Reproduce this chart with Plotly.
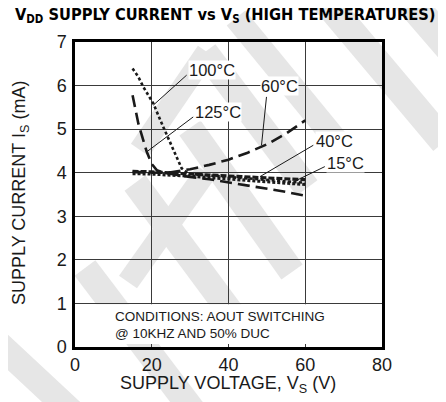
import plotly.graph_objects as go

# ---- data ----
x_125 = [15, 16.5, 18.7, 20, 21.3, 23, 26, 30, 35, 40, 45, 50, 55, 60]
y_125 = [5.78, 5.13, 4.48, 4.2, 4.06, 4.0, 3.96, 3.9, 3.85, 3.78, 3.71, 3.64, 3.56, 3.47]

x_100 = [15, 16.5, 17.8, 20.4, 23, 25.6, 27.8, 29.5, 35, 40, 45, 50, 55, 60]
y_100 = [6.39, 6.2, 5.97, 5.59, 5.05, 4.52, 4.1, 3.98, 3.93, 3.9, 3.87, 3.83, 3.8, 3.77]

x_60 = [15, 20, 25, 30, 35, 40, 45, 50, 55, 60]
y_60 = [4.02, 4.0, 4.01, 4.08, 4.18, 4.3, 4.46, 4.65, 4.9, 5.2]

x_40 = [15, 20, 30, 40, 50, 60]
y_40 = [4.03, 4.02, 3.97, 3.92, 3.88, 3.84]

x_15 = [15, 20, 30, 40, 50, 60]
y_15 = [3.98, 3.97, 3.92, 3.86, 3.8, 3.73]

x_ticks = [0, 20, 40, 60, 80]
y_ticks = [0, 1, 2, 3, 4, 5, 6, 7]

# label text, label position, leader line (from, to)
labels = [
    ("100°C", (35.6, 6.35), (29.1, 6.24), (20.4, 5.55)),
    ("125°C", (37.3, 5.40), (30.8, 5.28), (18.7, 4.48)),
    ("60°C", (53.4, 5.99), (49.9, 5.74), (48.6, 4.63)),
    ("40°C", (67.7, 4.73), (62.1, 4.63), (48.2, 3.91)),
    ("15°C", (70.5, 4.23), (65.1, 4.14), (56.9, 3.79)),
]

FONT = "Liberation Sans, Arial, Helvetica, sans-serif"
INK = "#1a1a1a"

fig = go.Figure()
series = [
    (x_125, y_125, "12px,6px", 2.6),
    (x_60, y_60, "12px,6px", 2.6),
    (x_100, y_100, "3px,2.5px", 2.6),
    (x_40, y_40, "6px,2px", 3.2),
    (x_15, y_15, "3px,2px", 3.2),
]
for xs, ys, dash, w in series:
    fig.add_trace(go.Scatter(x=xs, y=ys, mode="lines",
                             line=dict(color=INK, width=w, dash=dash),
                             showlegend=False, hoverinfo="skip"))

# the page has an 8px body margin: plot area in window pixels is x 75..382, y 42..347
OFF = 8
W, H = 446 - OFF, 402 - OFF
L, R, T, B = 75, 382, 42, 347
def px(xp, yp):
    return (xp - L) / (R - L), (B - yp) / (B - T)

shapes = []
# decorative light-gray watermark stripes (window pixel coords)
stripes = [
    ((-12, 334), (74, 414), 26),
    ((85, 268), (194, 412), 26),
    ((135, 183), (238, 322), 26),
    ((128, 282), (206, 172), 22),
    ((190, 128), (292, 272), 26),
    ((205, 52), (307, 188), 26),
    ((207, 52), (140, 150), 22),
    ((236, 18), (336, 140), 24),
    ((318, -8), (444, 142), 28),
    ((398, -12), (462, 62), 30),
]
for (x0, y0), (x1, y1), w in stripes:
    a0, b0 = px(x0, y0)
    a1, b1 = px(x1, y1)
    shapes.append(dict(type="line", xref="paper", yref="paper", x0=a0, y0=b0, x1=a1, y1=b1,
                       line=dict(color="#e6e6e6", width=w), layer="below"))

# white box behind the conditions text
shapes.append(dict(type="rect", xref="x", yref="y", x0=0.4, x1=79.6, y0=0.07, y1=0.98,
                   fillcolor="white", line=dict(width=0), layer="above"))

# leader lines
for txt, (tx, ty), (ax0, ay0), (ax1, ay1) in labels:
    shapes.append(dict(type="line", xref="x", yref="y", x0=ax0, y0=ay0, x1=ax1, y1=ay1,
                       line=dict(color=INK, width=1), layer="above"))

annotations = []
for txt, (tx, ty), _, _ in labels:
    annotations.append(dict(x=tx, y=ty, xref="x", yref="y", text=txt, showarrow=False,
                            xanchor="center", yanchor="middle",
                            font=dict(family=FONT, size=16.5, color=INK),
                            bgcolor="white", borderpad=0))

annotations += [
    dict(x=9.9, y=0.69, xref="x", yref="y", text="CONDITIONS: AOUT SWITCHING",
         showarrow=False, xanchor="left", yanchor="middle",
         font=dict(family=FONT, size=13.5, color=INK)),
    dict(x=9.9, y=0.32, xref="x", yref="y", text="@ 10KHZ AND 50% DUC",
         showarrow=False, xanchor="left", yanchor="middle",
         font=dict(family=FONT, size=13.5, color=INK)),
    dict(x=px(227.5, 0)[0], y=px(0, 384)[1], xref="paper", yref="paper",
         text="SUPPLY VOLTAGE, V<sub>S</sub> (V)", showarrow=False,
         xanchor="center", yanchor="middle",
         font=dict(family=FONT, size=18, color=INK)),
    dict(x=px(21, 0)[0], y=px(0, 193)[1], xref="paper", yref="paper", textangle=-90,
         text="SUPPLY CURRENT I<sub>S</sub> (mA)", showarrow=False,
         xanchor="center", yanchor="middle",
         font=dict(family=FONT, size=18, color=INK)),
    dict(x=px(225.5, 0)[0], y=px(0, 16)[1], xref="paper", yref="paper",
         text="<b>V<sub>DD</sub> SUPPLY CURRENT vs V<sub>S</sub> (HIGH TEMPERATURES)</b>",
         showarrow=False, xanchor="center", yanchor="middle",
         font=dict(family="Liberation Sans Narrow, DejaVu Sans Condensed, Arial Narrow, sans-serif",
                   size=16.3, color="black")),
]

axis_common = dict(showgrid=True, gridcolor="#3a3a3a", gridwidth=1, zeroline=False,
                   showline=True, linecolor="black", linewidth=2.5, mirror=True,
                   ticks="outside", tickcolor="rgba(0,0,0,0)",
                   tickfont=dict(family=FONT, size=18, color=INK), fixedrange=True)

fig.update_layout(
    width=W, height=H, autosize=False,
    margin=dict(l=L - OFF, r=446 - R, t=T - OFF, b=402 - B, autoexpand=False),
    paper_bgcolor="white", plot_bgcolor="rgba(0,0,0,0)",
    xaxis=dict(range=[0, 80], tickvals=x_ticks, ticklen=0, **axis_common),
    yaxis=dict(range=[0, 7], tickvals=y_ticks, ticklen=2, **axis_common),
    shapes=shapes, annotations=annotations, showlegend=False,
)

fig.write_html("out.html")
